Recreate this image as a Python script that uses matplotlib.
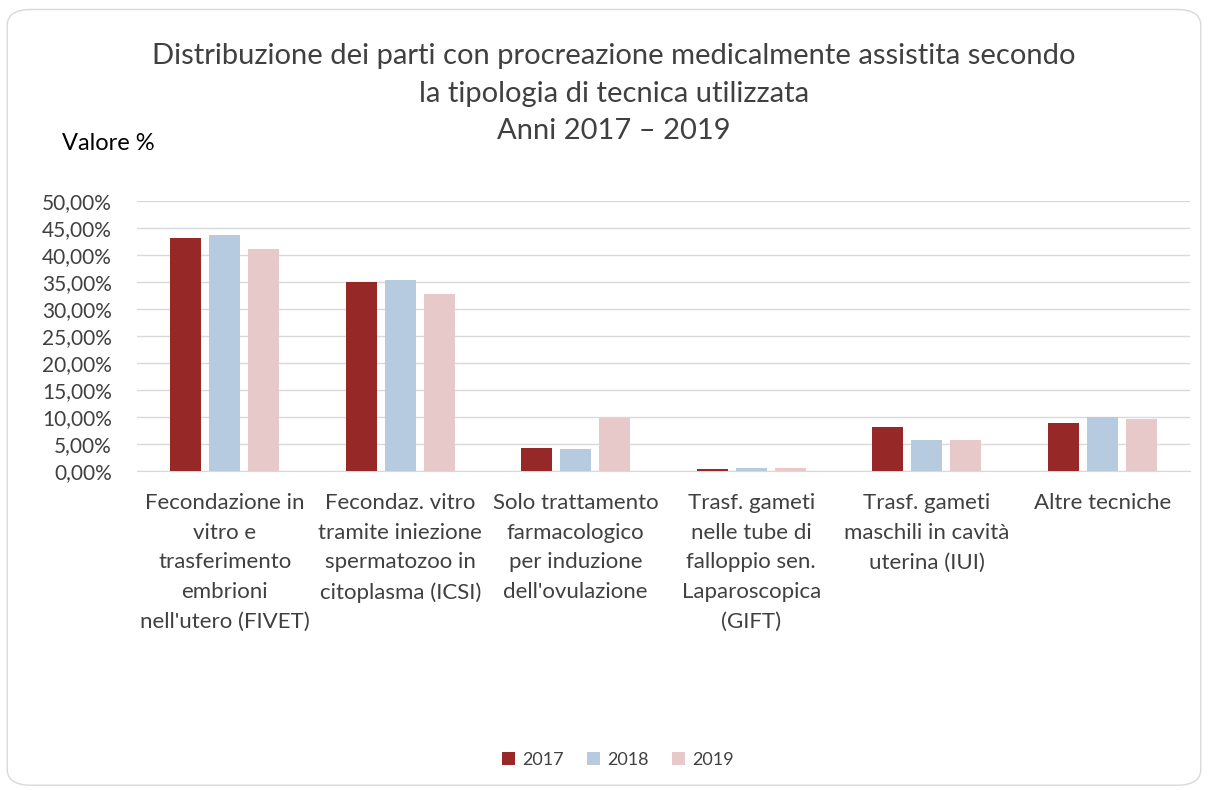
import matplotlib
matplotlib.use("Agg")
import matplotlib.pyplot as plt
from matplotlib.patches import FancyBboxPatch
from matplotlib.ticker import FuncFormatter, MultipleLocator
import numpy as np

categories = [
    "Fecondazione in\nvitro e\ntrasferimento\nembrioni\nnell'utero (FIVET)",
    "Fecondaz. vitro\ntramite iniezione\nspermatozoo in\ncitoplasma (ICSI)",
    "Solo trattamento\nfarmacologico\nper induzione\ndell'ovulazione",
    "Trasf. gameti\nnelle tube di\nfalloppio sen.\nLaparoscopica\n(GIFT)",
    "Trasf. gameti\nmaschili in cavità\nuterina (IUI)",
    "Altre tecniche",
]
years = ["2017", "2018", "2019"]
v2017 = [43.1, 35.0, 4.2, 0.37, 8.1, 8.9]
v2018 = [43.7, 35.4, 4.1, 0.55, 5.7, 10.05]
v2019 = [41.2, 32.7, 9.8, 0.50, 5.7, 9.7]
colors = ["#962828", "#B7CBE0", "#E8C9CA"]

plt.rcParams['font.family'] = ['Lato', 'DejaVu Sans']

fig = plt.figure(figsize=(12.08, 7.90), dpi=100)
border = FancyBboxPatch((0.006, 0.006), 0.988, 0.982, boxstyle="round,pad=0,rounding_size=0.02",
                        transform=fig.transFigure, fill=False, edgecolor="#D9D9D9", linewidth=1.0)
fig.patches.append(border)

ax = fig.add_axes([137/1208, 1 - 471/790, (1190-137)/1208, (471-201)/790])
x = np.arange(len(categories))
w = 0.177
step = w + 0.045
for i, (vals, c, yl) in enumerate(zip([v2017, v2018, v2019], colors, years)):
    ax.bar(x + (i - 1) * step, vals, width=w, color=c, label=yl, zorder=3)

ax.set_xlim(-0.5, len(categories) - 0.5)
ax.set_ylim(0, 50)
ax.yaxis.set_major_locator(MultipleLocator(5))
ax.yaxis.set_major_formatter(FuncFormatter(lambda v, p: f"{v:.2f}%".replace(".", ",")))
ax.grid(axis="y", color="#D9D9D9", linewidth=1.0, zorder=0)
for s in ["top", "right", "left"]:
    ax.spines[s].set_visible(False)
ax.spines["bottom"].set_color("#D9D9D9")
ax.tick_params(axis="y", length=0, labelsize=15, colors="#404040", pad=18)
ax.tick_params(axis="x", length=0, labelsize=16, colors="#404040", pad=16)
ax.set_xticks(x)
ax.set_xticklabels(categories, va="top", linespacing=1.6)

fig.text(0.508, 1 - 43/790, "Distribuzione dei parti con procreazione medicalmente assistita secondo\nla tipologia di tecnica utilizzata\nAnni 2017 – 2019",
         ha="center", va="top", fontsize=21, color="#404040", linespacing=1.55)
fig.text(62/1208, 1 - 143/790, "Valore %", ha="left", va="center", fontsize=17, color="#000000")

leg = fig.legend(loc="center", bbox_to_anchor=(618/1208, 1 - 760/790), ncol=3, frameon=False,
                 fontsize=13, handlelength=0.7, handleheight=0.7, columnspacing=1.3, handletextpad=0.4)
for t in leg.get_texts():
    t.set_color("#404040")

fig.savefig("out.png", dpi=100)
